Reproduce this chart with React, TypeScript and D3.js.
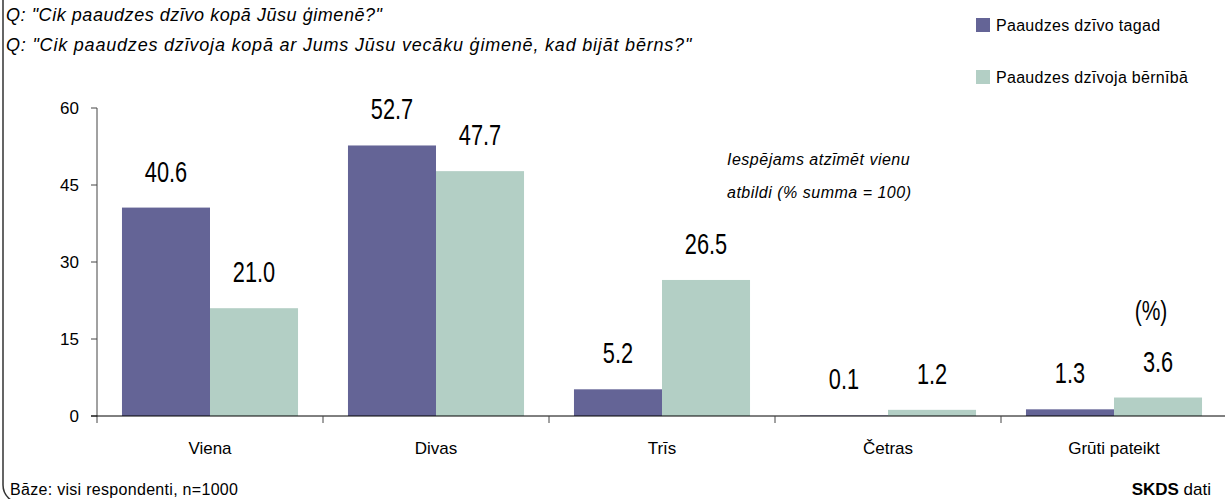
import { scaleBand, scaleLinear } from "d3";

const width = 1225;
const height = 499;

const categories = ["Viena", "Divas", "Trīs", "Četras", "Grūti pateikt"];
const seriesNames = ["Paaudzes dzīvo tagad", "Paaudzes dzīvoja bērnībā"];
const nowValues = [40.6, 52.7, 5.2, 0.1, 1.3];
const childhoodValues = [21.0, 47.7, 26.5, 1.2, 3.6];
const yTicks = [0, 15, 30, 45, 60];
const colours = ["#646496", "#b3cfc5"];

const font = "'Liberation Sans', Arial, sans-serif";

export default function App() {
  const x = scaleBand<string>()
    .domain(categories)
    .range([97, 1227])
    .paddingInner(0.221)
    .paddingOuter(0.1105);
  const step = x.step();
  const x0 = x.range()[0];
  const inner = scaleBand<number>()
    .domain([0, 1])
    .range([0, x.bandwidth()]);
  const y = scaleLinear().domain([0, 60]).range([416, 108]);

  const series = [nowValues, childhoodValues];

  return (
    <svg
      width={width}
      height={height}
      style={{ position: "absolute", left: 0, top: 0, fontFamily: font }}
    >
      <rect width={width} height={height} fill="#fff" />
      {/* frame, mostly off the picture */}
      <rect
        x={3}
        y={-30}
        width={1240}
        height={533}
        rx={18}
        fill="none"
        stroke="#333"
        strokeWidth={1.5}
      />

      <text x={6} y={21} fontSize={18} letterSpacing={0.55} fontStyle="italic" fill="#000">
        Q: "Cik paaudzes dzīvo kopā Jūsu ģimenē?"
      </text>
      <text x={6} y={51} fontSize={18} letterSpacing={0.8} fontStyle="italic" fill="#000">
        Q: "Cik paaudzes dzīvoja kopā ar Jums Jūsu vecāku ģimenē, kad bijāt bērns?"
      </text>

      {/* legend */}
      {seriesNames.map((s, i) => (
        <g key={s} transform={`translate(976,${18 + i * 52})`}>
          <rect width={14} height={14} fill={colours[i]} />
          <text x={20} y={13} fontSize={16} letterSpacing={0.3} fill="#000">
            {s}
          </text>
        </g>
      ))}

      {/* bars */}
      {series.map((vals, si) =>
        categories.map((c, ci) => {
          const bx = (x(c) ?? 0) + (inner(si) ?? 0);
          const bw = inner.bandwidth();
          const v = vals[ci];
          return (
            <g key={`${si}-${c}`}>
              <rect
                x={bx}
                y={y(v)}
                width={bw}
                height={y(0) - y(v)}
                fill={colours[si]}
              />
              <text
                transform={`translate(${bx + bw / 2},${y(v) - 26}) scale(0.75,1)`}
                textAnchor="middle"
                fontSize={29}
                fill="#000"
              >
                {v.toFixed(1)}
              </text>
            </g>
          );
        })
      )}

      {/* y axis */}
      <line x1={97} x2={97} y1={y(60)} y2={423} stroke="#444" />
      {yTicks.map((t) => (
        <g key={t}>
          <line x1={91} x2={97} y1={y(t)} y2={y(t)} stroke="#444" />
          <text
            x={79}
            y={y(t) + 6}
            textAnchor="end"
            fontSize={17}
            fill="#000"
          >
            {t}
          </text>
        </g>
      ))}

      {/* x axis */}
      <line x1={91} x2={width} y1={y(0)} y2={y(0)} stroke="#000" />
      {categories.map((c, i) => (
        <g key={c}>
          <line
            x1={x0 + step * (i + 1)}
            x2={x0 + step * (i + 1)}
            y1={y(0)}
            y2={423}
            stroke="#444"
          />
          <text
            x={x0 + step * (i + 0.5)}
            y={454}
            textAnchor="middle"
            fontSize={17}
            fill="#000"
          >
            {c}
          </text>
        </g>
      ))}

      <text x={727} y={165} fontSize={16} letterSpacing={0.5} fontStyle="italic" fill="#000">
        Iespējams atzīmēt vienu
      </text>
      <text x={727} y={198} fontSize={16} letterSpacing={0.5} fontStyle="italic" fill="#000">
        atbildi (% summa = 100)
      </text>

      <text
        transform="translate(1151,320) scale(0.75,1)"
        fontSize={28}
        textAnchor="middle"
        fill="#000"
      >
        (%)
      </text>

      <text x={10} y={495} fontSize={16} letterSpacing={0.3} fill="#000">
        Bāze: visi respondenti, n=1000
      </text>
      <text x={1211} y={495} fontSize={17} textAnchor="end" fill="#000">
        <tspan fontWeight="bold">SKDS</tspan> dati
      </text>
    </svg>
  );
}
